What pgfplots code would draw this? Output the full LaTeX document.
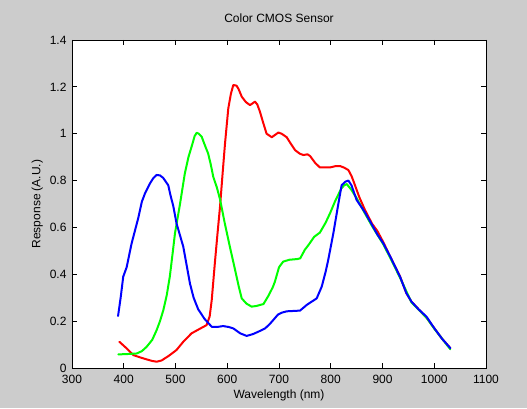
\documentclass[border=0pt]{standalone}
\usepackage{pgfplots}
\pgfplotsset{compat=1.18}
\usepackage{fontspec}
\setmainfont{Liberation Sans}
\definecolor{figbg}{RGB}{204,204,204}
\definecolor{mred}{RGB}{255,0,0}
\definecolor{mgreen}{RGB}{0,255,0}
\definecolor{mblue}{RGB}{0,0,255}
\begin{document}
\begin{tikzpicture}[x=1bp,y=1bp,font=\fontsize{12bp}{14bp}\selectfont]
\fill[figbg] (0,0) rectangle (527,408);
\begin{axis}[
  at={(72bp,40bp)}, anchor=south west,
  scale only axis, width=414bp, height=328bp,
  xmin=300, xmax=1100, ymin=0, ymax=1.4,
  xtick={300,400,...,1100},
  ytick={0,0.2,...,1.4},
  yticklabels={0,0.2,0.4,0.6,0.8,1,1.2,1.4},
  /pgf/number format/assume math mode=true,
  /pgf/number format/1000 sep={},
  scaled ticks=false,
  tick align=inside,
  major tick length=5bp,
  axis background/.style={fill=white},
  axis line style={line width=0.8bp, black},
  tick style={line width=0.8bp, black},
  xticklabel style={anchor=base, yshift=-15bp},
  yticklabel style={anchor=east, xshift=-2bp},
  title={Color CMOS Sensor},
  title style={at={(axis description cs:0.5,1)}, anchor=base, yshift=12bp},
  xlabel={Wavelength (nm)},
  xlabel style={at={(axis description cs:0.5,0)}, anchor=center, yshift=-27bp},
  ylabel={Response (A.U.)},
  every axis plot/.append style={line width=2bp, line join=round, line cap=round, no marks},
]
\addplot[mred] coordinates {
(391.5,0.112) (405,0.085) (418.5,0.055) (432,0.045) (444,0.037) (455,0.030) (463.6,0.027) (473,0.032) (487,0.052) (502,0.077) (515,0.112) (531,0.148) (545,0.165) (560,0.183) (566,0.22) (570,0.29) (576,0.447) (581,0.57) (586,0.688) (591,0.83) (595.7,0.959) (602,1.108) (607,1.17) (611.7,1.208) (618,1.205) (622,1.19) (628,1.158) (636,1.135) (644,1.122) (653.6,1.137) (658,1.125) (663,1.095) (669,1.05) (676,1.0) (686,0.985) (698.7,1.005) (705,1.0) (714.9,0.985) (722,0.96) (731,0.93) (740,0.915) (747,0.909) (755,0.912) (760,0.905) (770,0.875) (779,0.856) (798.5,0.856) (810,0.862) (818,0.862) (826,0.855) (834,0.845) (840,0.82) (843.5,0.80) (855,0.73) (866,0.675) (880,0.615) (890,0.585) (902,0.535) (915,0.475) (934,0.39) (946,0.32) (956,0.283) (970,0.25) (985,0.215) (1000,0.17) (1015,0.125) (1031,0.085)
};
\addplot[mgreen] coordinates {
(389.5,0.058) (410,0.060) (425,0.062) (435,0.072) (444,0.09) (455,0.12) (463.6,0.162) (470,0.20) (476.5,0.247) (483,0.31) (489,0.39) (495,0.5) (499,0.575) (508.7,0.70) (518,0.83) (525,0.9) (531,0.944) (537,0.99) (541,1.004) (545,1.0) (550.6,0.987) (556,0.955) (563,0.916) (568,0.87) (573,0.816) (580,0.77) (586,0.72) (595,0.62) (605,0.518) (615,0.42) (622,0.35) (628,0.297) (637,0.275) (647,0.262) (657,0.265) (663,0.269) (670,0.273) (680,0.31) (688,0.345) (692,0.368) (700,0.43) (708,0.454) (720,0.462) (735,0.465) (741,0.468) (750,0.505) (757,0.525) (768,0.56) (779,0.578) (790,0.62) (798.5,0.66) (808,0.71) (814.6,0.74) (820,0.765) (826,0.78) (831,0.785) (840,0.76) (850,0.725) (866,0.66) (880,0.605) (901,0.53) (915,0.47) (934,0.385) (956,0.28) (985,0.215) (1000,0.168) (1031,0.08)
};
\addplot[mblue] coordinates {
(389,0.222) (394,0.30) (399,0.39) (405.6,0.43) (415,0.53) (428,0.64) (435,0.71) (441,0.745) (450.7,0.788) (457,0.81) (463.6,0.824) (470,0.822) (476,0.812) (486,0.78) (490,0.74) (495.8,0.69) (502,0.617) (515,0.518) (528,0.36) (535,0.30) (544,0.25) (556,0.21) (570,0.176) (580,0.175) (592,0.179) (603,0.175) (611.7,0.169) (625,0.148) (637.5,0.137) (650,0.145) (663,0.158) (673,0.169) (681,0.185) (689,0.205) (698,0.228) (705,0.236) (715,0.242) (740.6,0.245) (753.5,0.269) (763,0.283) (772.8,0.297) (782.5,0.347) (790,0.41) (795,0.46) (805,0.575) (814.6,0.70) (821,0.78) (828,0.795) (834,0.80) (840,0.78) (850,0.717) (866,0.665) (880,0.61) (890,0.57) (901.6,0.532) (915,0.475) (933.8,0.39) (946,0.32) (956,0.283) (970,0.25) (985,0.219) (1000,0.17) (1015,0.125) (1031,0.085)
};
\end{axis}
\end{tikzpicture}
\end{document}
